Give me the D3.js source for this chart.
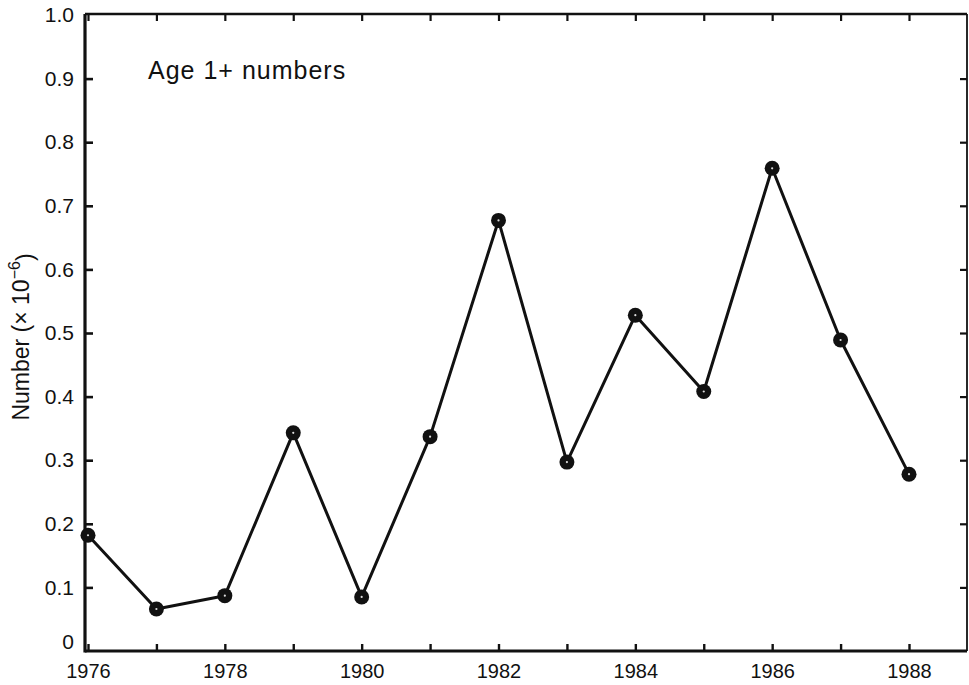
<!DOCTYPE html>
<html>
<head>
<meta charset="utf-8">
<script src="https://cdn.jsdelivr.net/npm/d3@7/dist/d3.min.js"></script>
<style>
  html, body { margin: 0; padding: 0; background: #fff; }
  svg { display: block; }
  text { font-family: "Liberation Sans", Arial, Helvetica, sans-serif; fill: #111; }
</style>
</head>
<body>
<svg id="chart" width="969" height="685"></svg>
<script>
// Age 1+ stock numbers by year (millions)
const years = [1976, 1977, 1978, 1979, 1980, 1981, 1982, 1983, 1984, 1985, 1986, 1987, 1988];
const numbers = [0.182, 0.066, 0.087, 0.343, 0.085, 0.337, 0.677, 0.297, 0.528, 0.408, 0.759, 0.489, 0.278];
const xTickYears = [1976, 1977, 1978, 1979, 1980, 1981, 1982, 1983, 1984, 1985, 1986, 1987, 1988];
const xLabelYears = [1976, 1978, 1980, 1982, 1984, 1986, 1988];
const yTicks = [0, 0.1, 0.2, 0.3, 0.4, 0.5, 0.6, 0.7, 0.8, 0.9, 1.0];

const svg = d3.select("#chart");
const plotL = 85, plotR = 967, plotT = 14, plotB = 651;

const x = d3.scaleLinear().domain([1976, 1988]).range([88, 909]);
const y = d3.scaleLinear().domain([0, 1]).range([plotB, plotT + 1]);

const ink = "#111";
const font = "'Liberation Sans', Arial, sans-serif";

// frame
svg.append("line").attr("x1", plotL).attr("x2", plotR).attr("y1", plotB).attr("y2", plotB)
  .attr("stroke", ink).attr("stroke-width", 3);
svg.append("line").attr("x1", plotL).attr("x2", plotL).attr("y1", plotT).attr("y2", plotB + 1.5)
  .attr("stroke", ink).attr("stroke-width", 3.2);
svg.append("line").attr("x1", plotL).attr("x2", plotR).attr("y1", plotT).attr("y2", plotT)
  .attr("stroke", ink).attr("stroke-width", 2.6);
svg.append("line").attr("x1", plotR).attr("x2", plotR).attr("y1", plotT).attr("y2", plotB)
  .attr("stroke", ink).attr("stroke-width", 1.8);

// bottom axis: inward ticks every year, labels on even years
const xAxis = d3.axisBottom(x).tickValues(xTickYears).tickSize(-7).tickPadding(13)
  .tickFormat(d => xLabelYears.includes(d) ? d3.format("d")(d) : "");
const gx = svg.append("g").attr("transform", `translate(0,${plotB})`).call(xAxis);
gx.attr("font-size", null).attr("font-family", null);
gx.select(".domain").remove();
gx.selectAll(".tick line").attr("stroke", ink).attr("stroke-width", 2.4);
gx.selectAll(".tick text").style("font-size", "20px").attr("fill", ink).style("font-family", font);

// top axis ticks
const gxt = svg.append("g").attr("transform", `translate(0,${plotT})`)
  .call(d3.axisTop(x).tickValues(xTickYears).tickSize(-7).tickFormat(""));
gxt.select(".domain").remove();
gxt.selectAll(".tick line").attr("stroke", ink).attr("stroke-width", 2.2);

// left axis: inward ticks with labels
const yAxis = d3.axisLeft(y).tickValues(yTicks).tickSize(-8).tickPadding(11)
  .tickFormat(d => d === 0 ? "0" : d3.format(".1f")(d));
const gy = svg.append("g").attr("transform", `translate(${plotL},0)`).call(yAxis);
gy.attr("font-size", null).attr("font-family", null);
gy.select(".domain").remove();
gy.selectAll(".tick line").attr("stroke", ink).attr("stroke-width", 2.6)
  .filter(d => d === 0 || d === 1).remove();
gy.selectAll(".tick text").style("font-size", "21px").attr("fill", ink).style("font-family", font)
  .filter(d => d === 0).attr("dy", "-0.1em");

// right axis ticks
const gyr = svg.append("g").attr("transform", `translate(${plotR},0)`)
  .call(d3.axisRight(y).tickValues(yTicks.filter(d => d > 0 && d < 1)).tickSize(-7).tickFormat(""));
gyr.select(".domain").remove();
gyr.selectAll(".tick line").attr("stroke", ink).attr("stroke-width", 2.2);

// series line
const pts = years.map((yr, i) => [yr, numbers[i]]);
svg.append("path").datum(pts)
  .attr("fill", "none").attr("stroke", ink).attr("stroke-width", 3)
  .attr("stroke-linejoin", "round")
  .attr("d", d3.line().x(d => x(d[0])).y(d => y(d[1])));

// markers: solid dots with a faint pale centre
const marks = svg.append("g");
marks.selectAll("circle.dot").data(pts).join("circle").attr("class", "dot")
  .attr("cx", d => x(d[0])).attr("cy", d => y(d[1])).attr("r", 7.5).attr("fill", ink);
marks.selectAll("circle.hole").data(pts).join("circle").attr("class", "hole")
  .attr("cx", d => x(d[0])).attr("cy", d => y(d[1])).attr("r", 1.1).attr("fill", "#ddd");

// panel label
svg.append("text").attr("x", 148).attr("y", 79)
  .style("font-size", "25px").style("font-family", font).style("letter-spacing", "1px")
  .text("Age 1+ numbers");

// y axis title
const yt = svg.append("text")
  .attr("transform", `translate(29,337) rotate(-90)`)
  .attr("text-anchor", "middle")
  .style("font-size", "23px").style("font-family", font);
yt.append("tspan").text("Number (× 10");
yt.append("tspan").attr("dy", "-0.55em").style("font-size", "16px").text("−6");
yt.append("tspan").attr("dy", "0.55em").text(")");
</script>
</body>
</html>
